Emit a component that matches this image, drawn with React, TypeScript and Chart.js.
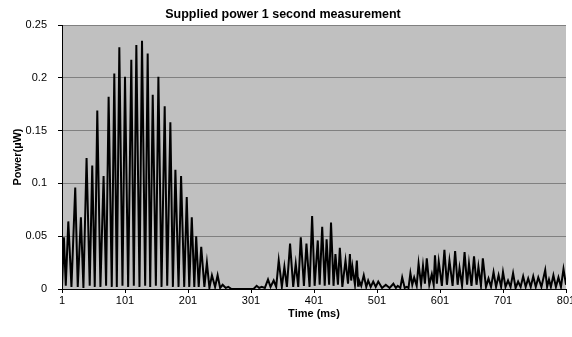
import React, { useEffect, useRef } from "react";
import { Chart, registerables } from "chart.js";

Chart.register(...registerables);

const chartTitle = "Supplied power 1 second measurement";
const xAxisTitle = "Time (ms)";
const yAxisTitle = "Power(µW)";
const xTickValues = [1, 101, 201, 301, 401, 501, 601, 701, 801];
const yTickValues = [0, 0.05, 0.1, 0.15, 0.2, 0.25];

// Time (ms) of each peak / trough
const timeMs = [
  1, 4, 7, 11, 16, 22, 26, 31, 35, 40, 45, 49, 53, 57, 62, 67, 71, 75, 80, 84,
  88, 92, 97, 101, 106, 111, 115, 119, 124, 128, 133, 137, 141, 145, 150, 154, 159, 164, 168, 173,
  177, 181, 186, 190, 195, 199, 203, 207, 211, 214, 218, 222, 227, 231, 235, 239, 244, 248, 252, 256,
  261, 265, 270, 290, 305, 310, 314, 318, 323, 328, 332, 337, 341, 345, 350, 354, 358, 363, 368, 372,
  376, 380, 385, 389, 394, 398, 402, 407, 410, 414, 418, 421, 425, 428, 432, 435, 439, 442, 446, 451,
  455, 458, 460, 462, 466, 469, 471, 472, 476, 480, 484, 487, 491, 495, 499, 503, 509, 515, 521, 527,
  531, 534, 538, 541, 545, 548, 551, 554, 557, 560, 564, 567, 571, 574, 577, 580, 584, 588, 591, 593,
  596, 599, 604, 608, 612, 616, 621, 625, 629, 632, 636, 640, 644, 647, 651, 655, 659, 662, 666, 669,
  674, 678, 682, 686, 690, 694, 698, 701, 705, 709, 713, 717, 721, 725, 729, 733, 737, 741, 745, 749,
  753, 757, 762, 768, 771, 774, 777, 781, 785, 789, 793, 797, 801,
];

// Power (µW) at those times
const powerUW = [
  0.002, 0.049, 0.003, 0.064, 0.002, 0.096, 0.002, 0.068, 0.001, 0.124, 0.003, 0.117, 0.002, 0.169, 0.002, 0.107, 0.003, 0.182, 0.002, 0.204,
  0.002, 0.229, 0.003, 0.201, 0.002, 0.217, 0.003, 0.231, 0.002, 0.235, 0.003, 0.223, 0.002, 0.184, 0.003, 0.201, 0.002, 0.173, 0.003, 0.158,
  0.002, 0.113, 0.002, 0.107, 0.002, 0.087, 0.002, 0.068, 0.002, 0.050, 0.002, 0.040, 0.002, 0.025, 0.001, 0.013, 0.002, 0.013, 0.001, 0.004,
  0.001, 0.002, 0.0, 0.0, 0.0, 0.003, 0.001, 0.002, 0.001, 0.009, 0.002, 0.008, 0.002, 0.027, 0.002, 0.021, 0.002, 0.043, 0.002, 0.024,
  0.002, 0.049, 0.003, 0.043, 0.002, 0.069, 0.003, 0.046, 0.004, 0.059, 0.003, 0.047, 0.004, 0.063, 0.003, 0.033, 0.004, 0.039, 0.002, 0.027,
  0.005, 0.033, 0.008, 0.021, 0.004, 0.027, 0.003, 0.009, 0.003, 0.013, 0.002, 0.008, 0.002, 0.007, 0.002, 0.007, 0.001, 0.004, 0.001, 0.005,
  0.001, 0.003, 0.001, 0.011, 0.001, 0.002, 0.001, 0.015, 0.004, 0.011, 0.003, 0.024, 0.004, 0.022, 0.005, 0.029, 0.004, 0.014, 0.004, 0.032,
  0.005, 0.026, 0.003, 0.037, 0.004, 0.027, 0.003, 0.036, 0.004, 0.020, 0.003, 0.035, 0.004, 0.024, 0.003, 0.031, 0.004, 0.021, 0.003, 0.029,
  0.002, 0.010, 0.002, 0.016, 0.002, 0.013, 0.002, 0.016, 0.002, 0.008, 0.002, 0.015, 0.001, 0.007, 0.002, 0.012, 0.002, 0.010, 0.002, 0.012,
  0.002, 0.011, 0.002, 0.018, 0.002, 0.009, 0.002, 0.013, 0.002, 0.011, 0.002, 0.019, 0.004,
];

const FONT = "Arial, 'Liberation Sans', sans-serif";

const plotBackground = {
  id: "plotBackground",
  beforeDraw(chart: any) {
    const { ctx, chartArea } = chart;
    if (!chartArea) return;
    ctx.save();
    ctx.fillStyle = "#c0c0c0";
    ctx.fillRect(chartArea.left, chartArea.top, chartArea.right - chartArea.left, chartArea.bottom - chartArea.top);
    ctx.restore();
  },
};

export default function App() {
  const canvasRef = useRef<HTMLCanvasElement | null>(null);

  useEffect(() => {
    const canvas = canvasRef.current;
    if (!canvas) return;
    const points = timeMs.map((t, i) => ({ x: t, y: powerUW[i] }));
    const chart = new Chart(canvas, {
      type: "line",
      data: {
        datasets: [
          {
            data: points,
            borderColor: "#000000",
            borderWidth: 2,
            pointRadius: 0,
            tension: 0,
            fill: false,
          },
        ],
      },
      options: {
        animation: false,
        responsive: false,
        maintainAspectRatio: false,
        events: [],
        layout: { padding: { left: 0, right: 6, top: 0, bottom: 0 } },
        plugins: {
          legend: { display: false },
          tooltip: { enabled: false },
          title: {
            display: true,
            text: chartTitle,
            color: "#000000",
            font: { family: FONT, size: 12.5, weight: "bold", lineHeight: 1.2 },
            padding: { top: 7, bottom: 3 },
          },
        },
        scales: {
          x: {
            type: "linear",
            min: 1,
            max: 801,
            afterBuildTicks: (s: any) => {
              s.ticks = xTickValues.map((v) => ({ value: v }));
            },
            afterFit: (s: any) => {
              s.height = 48;
              s.paddingRight = 0;
            },
            ticks: {
              color: "#000000",
              font: { family: FONT, size: 11 },
              padding: 1,
              maxRotation: 0,
              autoSkip: false,
              callback: (v: any) => String(v),
            },
            grid: {
              drawOnChartArea: false,
              drawTicks: true,
              tickLength: 4,
              tickColor: "#000000",
            },
            border: { color: "#000000", width: 1 },
            title: {
              display: true,
              text: xAxisTitle,
              color: "#000000",
              font: { family: FONT, size: 11, weight: "bold", lineHeight: 1.2 },
              padding: { top: 0, bottom: 16 },
            },
          },
          y: {
            type: "linear",
            min: 0,
            max: 0.25,
            afterBuildTicks: (s: any) => {
              s.ticks = yTickValues.map((v) => ({ value: v }));
            },
            afterFit: (s: any) => {
              s.width = 62;
            },
            ticks: {
              color: "#000000",
              font: { family: FONT, size: 11 },
              padding: 11,
              callback: (v: any) => String(v),
            },
            grid: {
              color: "#808080",
              lineWidth: 1,
              drawTicks: true,
              tickLength: 4,
              tickColor: "#000000",
            },
            border: { color: "#000000", width: 1 },
            title: {
              display: true,
              text: yAxisTitle,
              color: "#000000",
              font: { family: FONT, size: 11, weight: "bold", lineHeight: 1.2 },
              padding: { top: 11, bottom: 0 },
            },
          },
        },
      },
      plugins: [plotBackground],
    });
    return () => chart.destroy();
  }, []);

  return (
    <div style={{ position: "fixed", left: 0, top: 0, width: 572, height: 337, background: "#ffffff" }}>
      <canvas ref={canvasRef} width={572} height={337} style={{ display: "block", width: 572, height: 337 }} />
    </div>
  );
}
